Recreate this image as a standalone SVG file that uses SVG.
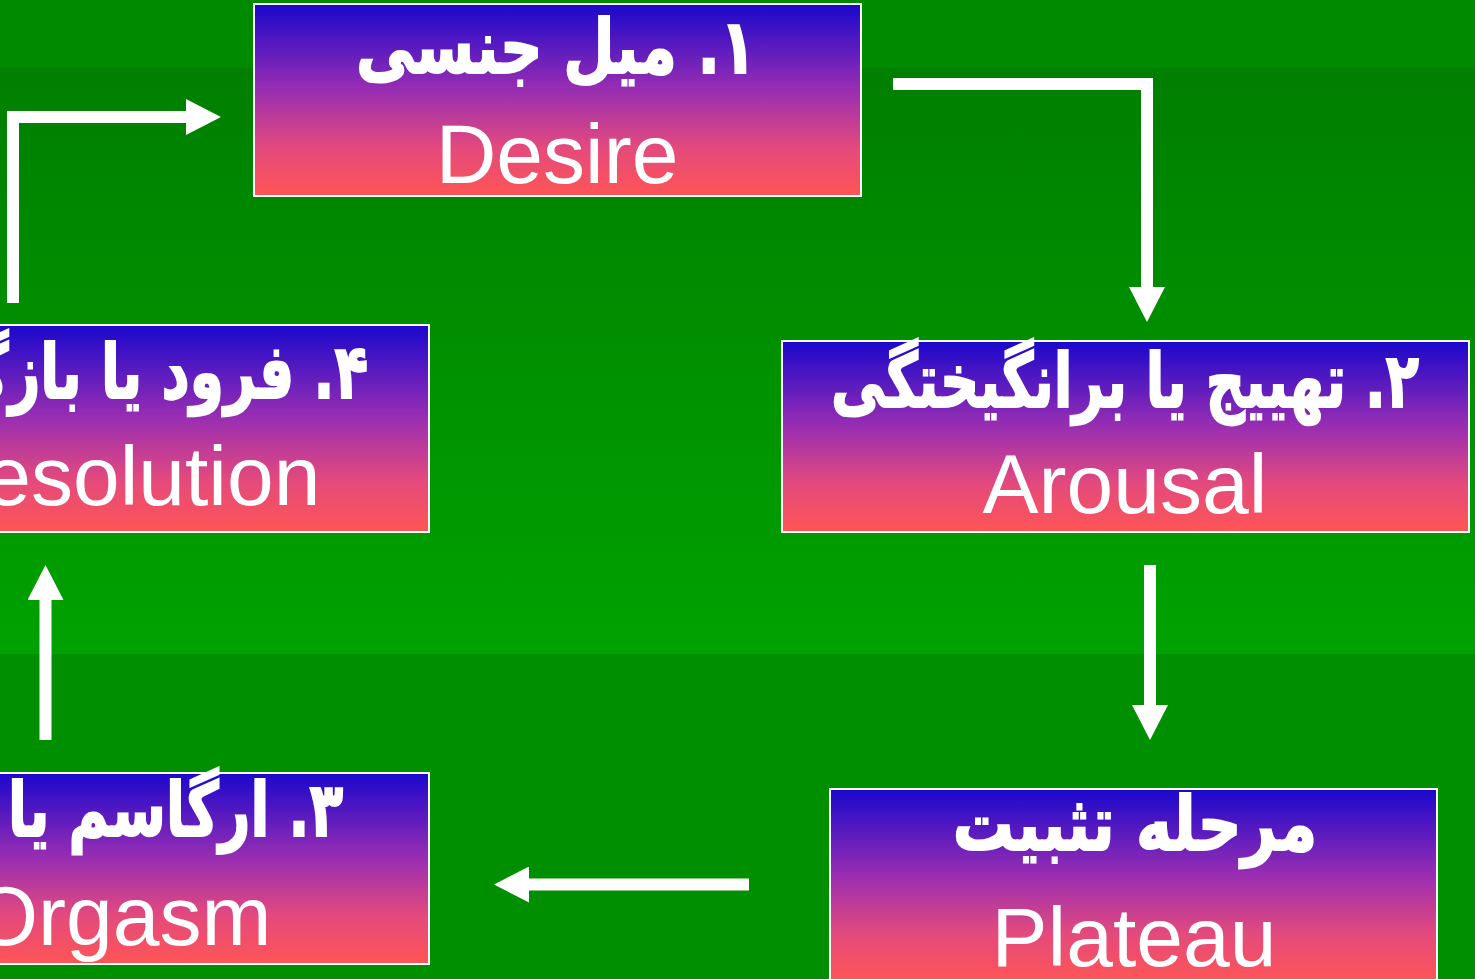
<svg xmlns="http://www.w3.org/2000/svg" width="1475" height="979" viewBox="0 0 1475 979">
<defs>
<linearGradient id="bg" x1="0" y1="68" x2="0" y2="654" gradientUnits="userSpaceOnUse">
<stop offset="0" stop-color="#007f00"/>
<stop offset="1" stop-color="#00a200"/>
</linearGradient>
<linearGradient id="box" x1="0" y1="0" x2="0" y2="1">
<stop offset="0" stop-color="#1a08cc"/>
<stop offset="0.45" stop-color="#9a2eb2"/>
<stop offset="0.75" stop-color="#e44a7c"/>
<stop offset="1" stop-color="#ff5555"/>
</linearGradient>
<marker id="ah" viewBox="0 0 35 36" refX="0" refY="18" markerWidth="35" markerHeight="36" markerUnits="userSpaceOnUse" orient="auto">
<path d="M0,0 L35,18 L0,36 z" fill="#ffffff"/>
</marker>
</defs>
<style>
.bx{fill:url(#box);stroke:#ffffff;stroke-width:2}
.fa{font-family:"DejaVu Sans","Noto Sans",sans-serif;font-weight:bold;font-size:58px;fill:#ffffff;stroke:#ffffff;stroke-width:1.5;text-anchor:middle;direction:rtl}
.fr{text-anchor:start}
.en{font-family:"Liberation Sans",Arial,sans-serif;font-size:84px;fill:#ffffff;text-anchor:middle}
.cn{fill:none;stroke:#ffffff;stroke-width:12;stroke-linejoin:miter;marker-end:url(#ah)}
</style>
<rect x="0" y="0" width="1475" height="979" fill="url(#bg)"/>
<rect x="0" y="0" width="1475" height="68" fill="#008a00"/>
<rect x="0" y="654" width="1475" height="325" fill="#008f00"/>

<g id="desire">
<rect class="bx" x="254" y="4" width="607" height="192"/>
<text class="fa" transform="translate(556,73) scale(1.02,1.3)" x="0" y="0">۱. میل جنسی</text>
<text class="en" x="557" y="183">Desire</text>
</g>
<g id="arousal">
<rect class="bx" x="782" y="341" width="687" height="191"/>
<text class="fa" transform="translate(1125,407) scale(0.94,1.3)" x="0" y="0">۲. تهییج یا برانگیختگی</text>
<text class="en" x="1125" y="513">Arousal</text>
</g>
<g id="plateau">
<rect class="bx" x="830" y="789" width="607" height="193"/>
<text class="fa" transform="translate(1135,850) scale(1.05,1.3)" x="0" y="0">مرحله تثبیت</text>
<text class="en" x="1134" y="966">Plateau</text>
</g>
<g id="orgasm">
<rect class="bx" x="-180" y="773" width="609" height="191"/>
<text class="fa fr" transform="translate(343,836) scale(0.95,1.3)" x="0" y="0">۳. ارگاسم یا اوج لذت</text>
<text class="en" x="122" y="945">Orgasm</text>
</g>
<g id="resolution">
<rect class="bx" x="-180" y="325" width="609" height="207"/>
<text class="fa fr" transform="translate(368,398) scale(0.95,1.3)" x="0" y="0">۴. فرود یا بازگشت</text>
<text class="en" x="122" y="505">Resolution</text>
</g>

<g id="connectors">
<path class="cn" d="M893,84 H1147 V287"/>
<path class="cn" d="M1150,565 V705"/>
<path class="cn" d="M749,884.5 H529"/>
<path class="cn" d="M45.5,740 V600"/>
<path class="cn" d="M13,303 V117 H186"/>
</g>
</svg>
